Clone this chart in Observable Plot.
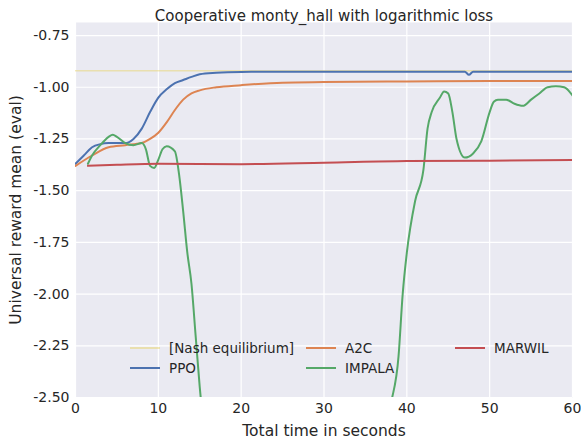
<!DOCTYPE html>
<html><head>
<script src="https://cdn.jsdelivr.net/npm/d3@7"></script>
<script src="https://cdn.jsdelivr.net/npm/@observablehq/plot@0.6"></script>
<style>body{margin:0;background:#fff} #wrap{position:relative;width:581px;height:441px}</style>
</head><body>
<div id="wrap"></div>
<script>
const nash = [[0,-0.92],[60,-0.92]];
const ppo = [[0,-1.37],[1,-1.33],[2,-1.29],[3,-1.275],[4,-1.27],[5,-1.27],[6,-1.27],[7,-1.25],[8,-1.2],[9,-1.12],[10,-1.05],[11,-1.01],[12,-0.98],[13,-0.965],[14,-0.95],[15,-0.937],[17,-0.93],[20,-0.926],[25,-0.925],[30,-0.925],[40,-0.925],[47,-0.925],[47.5,-0.94],[48,-0.925],[60,-0.925]];
const a2c = [[0,-1.38],[2,-1.33],[4,-1.29],[6,-1.28],[8,-1.27],[9,-1.25],[10,-1.22],[11,-1.17],[12,-1.11],[13,-1.06],[14,-1.03],[15,-1.015],[17,-1.0],[20,-0.99],[25,-0.978],[30,-0.975],[40,-0.972],[50,-0.97],[60,-0.97]];
const impala = [[1.5,-1.37],[2,-1.33],[3,-1.28],[4,-1.24],[4.5,-1.23],[5,-1.24],[6,-1.27],[7,-1.28],[8,-1.27],[8.5,-1.3],[9,-1.38],[9.5,-1.39],[10,-1.35],[10.5,-1.3],[11,-1.285],[12,-1.31],[12.5,-1.42],[13,-1.6],[13.5,-1.8],[14,-1.95],[14.5,-2.2],[15,-2.45],[15.5,-2.65],[20,-3.5],[35,-3.5],[38,-2.55],[39,-2.3],[39.5,-2.0],[40,-1.8],[41,-1.55],[42,-1.4],[42.5,-1.2],[43,-1.12],[44,-1.05],[44.5,-1.02],[45,-1.03],[45.5,-1.12],[46,-1.25],[47,-1.34],[48,-1.32],[49,-1.26],[50,-1.12],[50.5,-1.07],[51,-1.06],[52,-1.06],[53,-1.08],[54,-1.09],[55,-1.06],[56,-1.03],[57,-1.0],[58,-0.995],[59,-1.0],[60,-1.04]];
const marwil = [[1.5,-1.38],[5,-1.375],[10,-1.37],[20,-1.372],[30,-1.365],[40,-1.357],[50,-1.355],[60,-1.352]];
const xTicks = [0,10,20,30,40,50,60];
const yTicks = [-0.75,-1.0,-1.25,-1.5,-1.75,-2.0,-2.25,-2.5];

const series = [
  {name:"[Nash equilibrium]", data:nash, color:"#E8D36B", op:0.5, col:0, row:0},
  {name:"PPO", data:ppo, color:"#4C72B0", op:1, col:0, row:1},
  {name:"A2C", data:a2c, color:"#DD8452", op:1, col:1, row:0},
  {name:"IMPALA", data:impala, color:"#55A868", op:1, col:1, row:1},
  {name:"MARWIL", data:marwil, color:"#C44E52", op:1, col:2, row:0}
];
const fmt = d => d3.format(".2f")(d).replace("−","-");

const chart = Plot.plot({
  width: 581, height: 441,
  marginLeft: 75, marginRight: 9, marginTop: 22, marginBottom: 44,
  style: {fontFamily: "DejaVu Sans", fontSize: "14px", color: "#262626", background: "#fff"},
  x: {domain: [0,60], ticks: xTicks, tickSize: 0, tickPadding: 6, label: "Total time in seconds", labelAnchor: "center", labelOffset: 38, labelArrow: "none"},
  y: {domain: [-2.5,-0.687], ticks: yTicks, tickSize: 0, tickPadding: 6, tickFormat: fmt, label: "Universal reward mean (eval)", labelAnchor: "center", labelOffset: 66, labelArrow: "none"},
  marks: [
    Plot.frame({fill: "#EAEAF2", stroke: null}),
    Plot.gridX(xTicks, {stroke: "#fff", strokeOpacity: 1, strokeWidth: 1.2}),
    Plot.gridY(yTicks, {stroke: "#fff", strokeOpacity: 1, strokeWidth: 1.2}),
    ...series.map(s => Plot.line(s.data, {x: d => d[0], y: d => d[1], stroke: s.color, strokeOpacity: s.op, strokeWidth: s.op < 1 ? 1.5 : 2, curve: "monotone-x", clip: true})),
    Plot.text(["Cooperative monty_hall with logarithmic loss"], {frameAnchor: "top", dy: -12, fontSize: 15})
  ]
});
chart.querySelectorAll("[aria-label='x-axis label'] text, [aria-label='y-axis label'] text").forEach(t => t.setAttribute("font-size","15.5"));
document.getElementById("wrap").append(chart);

// legend overlay inside the plot area
const leg = d3.select("#wrap").append("div").style("position","absolute").style("left","0").style("top","0");
const colX = [130, 306, 455], rowY = [349, 369];
series.forEach(s => {
  const e = leg.append("div").style("position","absolute")
    .style("left", colX[s.col] + "px").style("top", (rowY[s.row] - 9) + "px")
    .style("display","flex").style("align-items","center")
    .style("font","13.5px 'DejaVu Sans'").style("color","#262626").style("white-space","nowrap");
  e.append("span").style("display","inline-block").style("width","30px").style("height","2px")
    .style("background", s.color).style("opacity", s.op).style("margin-right","9px");
  e.append("span").text(s.name);
});
</script>
</body></html>
